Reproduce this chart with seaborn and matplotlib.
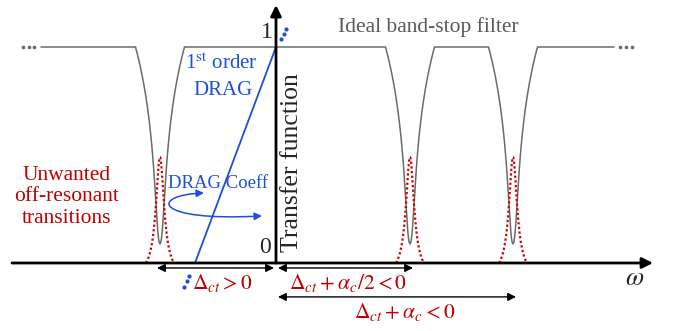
import numpy as np
import pandas as pd
import matplotlib
matplotlib.use("Agg")
import matplotlib.pyplot as plt
from matplotlib.patches import FancyArrowPatch
from matplotlib.path import Path
import seaborn as sns

# x: frequency position (px across the sketch), y: transfer function (0..1)
band_edges = [41, 614]
notch_centers = [160, 410, 513]
notch_halfwidth = 24.5
notch_depth = 0.912
notch_decay = 0.417
peak_height = 0.49
peak_halfwidth = 14
peak_gamma = 5
qubit_freq = 276
drag_zero = 195

detuning_spans = [(157, 274), (278, 413), (278, 516)]
detuning_rows = [-0.023, -0.023, -0.157]
detuning_labels = [r'$\Delta_{ct} > 0$',
                   r'$\Delta_{ct} + \alpha_c/2 < 0$',
                   r'$\Delta_{ct} + \alpha_c < 0$']
label_x = [222, 348, 405]
label_y = [-0.093, -0.093, -0.227]

dots_left = [23, 28.5, 34]
dots_right = [620, 626, 632]
blue_dots_top = ([281, 283.5, 286], [1.037, 1.060, 1.083])
blue_dots_bottom = ([184, 186.5, 189], [-0.111, -0.083, -0.060])

RED = '#c00000'
BLUE = '#1d4fd8'
GREY = '#6b6b6b'

sns.set_theme(style="white")
plt.rcParams['font.family'] = ['Liberation Serif', 'DejaVu Serif']
plt.rcParams['mathtext.fontset'] = 'stix'

fig = plt.figure(figsize=(6.76, 3.31), dpi=100)
ax = fig.add_axes([0, 0, 1, 1])
ax.set_xlim(0, 676)
ax.set_ylim(-68 / 216, 263 / 216)
ax.set_axis_off()

# ---- ideal band-stop filter ----
depth = np.linspace(0, notch_depth, 120)
hw = notch_halfwidth * np.exp(-depth / notch_decay) * np.sqrt(1 - (depth / notch_depth) ** 10)
xs, ys = [band_edges[0]], [1.0]
for c in notch_centers:
    xs += list(c - hw) + list((c + hw)[::-1])
    ys += list(1 - depth) + list((1 - depth)[::-1])
xs.append(band_edges[1])
ys.append(1.0)
filt = pd.DataFrame({'omega': xs, 'T': ys})
sns.lineplot(data=filt, x='omega', y='T', sort=False, estimator=None,
             color=GREY, lw=1.1, ax=ax)

# ---- off-resonant transitions (red dotted peaks) ----
dx = np.linspace(-peak_halfwidth, peak_halfwidth, 120)
lor = peak_gamma**2 / (dx**2 + peak_gamma**2)
lor0 = peak_gamma**2 / (peak_halfwidth**2 + peak_gamma**2)
prof = peak_height * (lor - lor0) / (1 - lor0)
for c in notch_centers:
    sns.lineplot(x=c + dx, y=prof, sort=False, estimator=None, color='#d00000',
                 lw=1.6, linestyle=(0, (1, 1.1)), ax=ax)

# ---- 1st order DRAG line ----
sns.lineplot(x=[drag_zero, qubit_freq], y=[0, 1], estimator=None, sort=False,
             color=BLUE, lw=1.3, ax=ax)

# ---- axes of the sketch ----
ax.annotate('', xy=(653, 0), xytext=(12, 0),
            arrowprops=dict(arrowstyle='-|>', lw=2, color='black',
                            mutation_scale=16, shrinkA=0, shrinkB=0))
ax.annotate('', xy=(qubit_freq, 1.194), xytext=(qubit_freq, 0),
            arrowprops=dict(arrowstyle='-|>', lw=2, color='black',
                            mutation_scale=16, shrinkA=0, shrinkB=0))

# ---- detuning arrows ----
for (x0, x1), yr in zip(detuning_spans, detuning_rows):
    ax.annotate('', xy=(x1, yr), xytext=(x0, yr),
                arrowprops=dict(arrowstyle='<|-|>', lw=1, color='black',
                                mutation_scale=12, shrinkA=0, shrinkB=0))
for lab, lx, ly in zip(detuning_labels, label_x, label_y):
    ax.text(lx, ly, lab, color=RED, fontsize=15.5, ha='center', va='center')

# ---- dots ----
sns.scatterplot(x=dots_left, y=[1, 1, 1], color=GREY, s=7, linewidth=0, ax=ax)
sns.scatterplot(x=dots_right, y=[1, 1, 1], color=GREY, s=7, linewidth=0, ax=ax)
sns.scatterplot(x=blue_dots_top[0], y=blue_dots_top[1], color=BLUE, s=9, linewidth=0, ax=ax)
sns.scatterplot(x=blue_dots_bottom[0], y=blue_dots_bottom[1], color=BLUE, s=9, linewidth=0, ax=ax)

# ---- curved arrow around DRAG Coeff ----
verts = [(204, 0.324), (150, 0.315), (152, 0.190), (262, 0.218)]
loop = Path(verts, [Path.MOVETO, Path.CURVE4, Path.CURVE4, Path.CURVE4])
ax.add_patch(FancyArrowPatch(path=loop, arrowstyle='<|-|>', mutation_scale=11,
                             color=BLUE, lw=1.1))

# ---- text ----
ax.text(267, 1.065, '1', fontsize=17, ha='center', va='center')
ax.text(265, 0.072, '0', fontsize=17, ha='center', va='center')
ax.text(292, 0.463, 'Transfer function', fontsize=18.5, rotation=90,
        ha='center', va='center')
ax.text(338, 1.093, 'Ideal band-stop filter', fontsize=15.5, color='#595959',
        ha='left', va='center')
ax.text(221, 0.921, r'1$^{\mathrm{st}}$ order', fontsize=15, color=BLUE,
        ha='center', va='center')
ax.text(223, 0.80, 'DRAG', fontsize=15, color=BLUE, ha='center', va='center')
ax.text(218, 0.370, 'DRAG Coeff', fontsize=13.5, color=BLUE, ha='center', va='center')
ax.text(67, 0.306, 'Unwanted\noff-resonant\ntransitions', fontsize=15.5,
        color=RED, ha='center', va='center', linespacing=1.15)
ax.text(635, -0.074, r'$\omega$', fontsize=19, ha='center', va='center')

fig.savefig('out.png', dpi=100)
